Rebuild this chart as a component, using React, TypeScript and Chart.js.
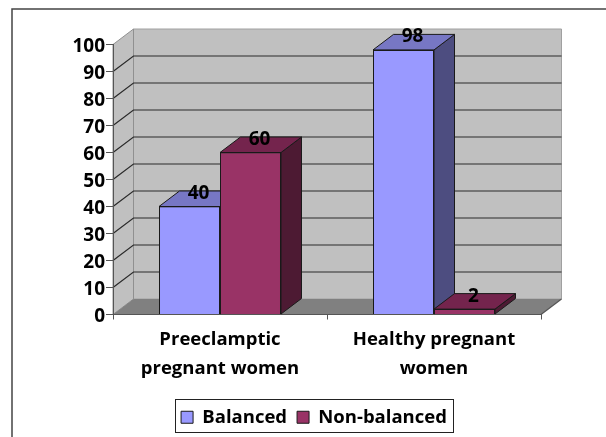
import React, { useEffect, useRef } from "react";
import { Chart, registerables } from "chart.js";

Chart.register(...registerables);

const categories = [["Preeclamptic", "pregnant women"], ["Healthy pregnant", "women"]];
const balanced = [40, 98];
const nonBalanced = [60, 2];
const yTicks = [0, 10, 20, 30, 40, 50, 60, 70, 80, 90, 100];

const FONT = "'Open Sans', 'Noto Sans', sans-serif";
const DX = 20.5;
const DY = -15.5;
const faces = [
  { top: "#7777C4", side: "#4D4D80" },
  { top: "#74244D", side: "#4D1A33" },
];

function poly(ctx: CanvasRenderingContext2D, pts: number[][], fill: string, stroke?: string, lw = 1) {
  ctx.beginPath();
  pts.forEach((p, i) => (i ? ctx.lineTo(p[0], p[1]) : ctx.moveTo(p[0], p[1])));
  ctx.closePath();
  ctx.fillStyle = fill;
  ctx.fill();
  if (stroke) {
    ctx.strokeStyle = stroke;
    ctx.lineWidth = lw;
    ctx.stroke();
  }
}

const threeD = {
  id: "threeD",
  afterLayout(chart: any) {
    const lg = chart.legend;
    lg.left = 144;
    lg.right = 484;
    lg.top = 398;
    lg.bottom = 432;
    lg.width = 340;
    lg.height = 34;
  },
  beforeDraw(chart: any) {
    const ctx: CanvasRenderingContext2D = chart.ctx;
    const { left, right } = chart.chartArea;
    const y = chart.scales.y;
    const y0 = y.getPixelForValue(0);
    const yMax = y.getPixelForValue(100);
    ctx.save();
    // outer frame
    ctx.strokeStyle = "#444";
    ctx.lineWidth = 1.5;
    ctx.beginPath();
    ctx.moveTo(12, 437);
    ctx.lineTo(12, 9);
    ctx.lineTo(606, 9);
    ctx.stroke();
    // walls
    poly(ctx, [[left + DX, y0 + DY], [right + DX, y0 + DY], [right + DX, yMax + DY], [left + DX, yMax + DY]], "#C0C0C0", "#A0A0A0", 1);
    poly(ctx, [[left, y0], [left + DX, y0 + DY], [left + DX, yMax + DY], [left, yMax]], "#C0C0C0", "#909090", 1);
    poly(ctx, [[left, y0], [right, y0], [right + DX, y0 + DY], [left + DX, y0 + DY]], "#808080");
    // gridlines
    ctx.strokeStyle = "#2A2A2A";
    ctx.lineWidth = 1.2;
    yTicks.forEach((t) => {
      if (t === 0 || t === 100) return;
      const py = y.getPixelForValue(t);
      ctx.beginPath();
      ctx.moveTo(left, py);
      ctx.lineTo(left + DX, py + DY);
      ctx.lineTo(right + DX, py + DY);
      ctx.stroke();
    });
    ctx.strokeStyle = "#555";
    ctx.beginPath();
    ctx.moveTo(right, y0);
    ctx.lineTo(right + DX, y0 + DY);
    ctx.stroke();
    // legend frame
    ctx.strokeStyle = "#222";
    ctx.lineWidth = 1;
    ctx.strokeRect(175.5, 399.5, 278, 33);
    ctx.restore();
  },
  afterDatasetsDraw(chart: any) {
    const ctx: CanvasRenderingContext2D = chart.ctx;
    ctx.save();
    chart.data.datasets.forEach((_: any, i: number) => {
      const meta = chart.getDatasetMeta(i);
      meta.data.forEach((el: any) => {
        const { x, y, base, width } = el.getProps(["x", "y", "base", "width"], true);
        const l = x - width / 2;
        const r = x + width / 2;
        poly(ctx, [[r, base], [r + DX, base + DY], [r + DX, y + DY], [r, y]], faces[i].side, "#1A1A1A", 1);
        poly(ctx, [[l, y], [l + DX, y + DY], [r + DX, y + DY], [r, y]], faces[i].top, "#1A1A1A", 1);
        el.draw(ctx);
      });
    });
    ctx.fillStyle = "#000";
    ctx.font = `bold 19px ${FONT}`;
    ctx.textAlign = "center";
    ctx.textBaseline = "middle";
    chart.data.datasets.forEach((ds: any, i: number) => {
      chart.getDatasetMeta(i).data.forEach((el: any, j: number) => {
        const { x, y } = el.getProps(["x", "y"], true);
        ctx.fillText(String(ds.data[j]), x + 9, y - 13);
      });
    });
    ctx.restore();
  },
};

export default function App() {
  const ref = useRef<HTMLCanvasElement>(null);
  useEffect(() => {
    const chart = new Chart(ref.current!, {
      type: "bar",
      data: {
        labels: categories as any,
        datasets: [
          { label: "Balanced", data: balanced, backgroundColor: "#9999FF", borderColor: "#1A1A1A", borderWidth: 1 },
          { label: "Non-balanced", data: nonBalanced, backgroundColor: "#993366", borderColor: "#1A1A1A", borderWidth: 1 },
        ],
      },
      options: {
        responsive: false,
        animation: false,
        devicePixelRatio: 1,
        layout: { padding: { left: 20, right: 65, top: 44.5, bottom: 14 } },
        datasets: { bar: { barPercentage: 1, categoryPercentage: 0.57 } },
        plugins: {
          tooltip: { enabled: false },
          legend: {
            position: "bottom",
            labels: {
              boxWidth: 12,
              boxHeight: 12,
              padding: 10,
              color: "#000",
              font: { family: FONT, size: 18.5, weight: "bold" },
            },
          },
        },
        scales: {
          x: {
            grid: { drawOnChartArea: false, offset: true, tickLength: 5, color: "#555" },
            border: { color: "#555" },
            ticks: {
              color: "#000",
              maxRotation: 0,
              autoSkip: false,
              padding: 6,
              font: { family: FONT, size: 18.5, weight: "bold", lineHeight: 1.57 },
            },
            afterFit: (s: any) => { s.height = 70; },
          },
          y: {
            min: 0,
            max: 100,
            grid: { drawOnChartArea: false, tickLength: 7, color: "#555" },
            border: { color: "#555" },
            ticks: {
              stepSize: 10,
              autoSkip: false,
              color: "#000",
              padding: 1,
              labelOffset: 2,
              font: { family: FONT, size: 19, weight: "bold" },
            },
            afterFit: (s: any) => { s.width = 93; },
          },
        },
      } as any,
      plugins: [threeD],
    });
    return () => chart.destroy();
  }, []);
  return (
    <div style={{ position: "absolute", left: 0, top: 0 }}>
      <canvas ref={ref} width={606} height={437} style={{ display: "block", width: 606, height: 437 }} />
    </div>
  );
}
